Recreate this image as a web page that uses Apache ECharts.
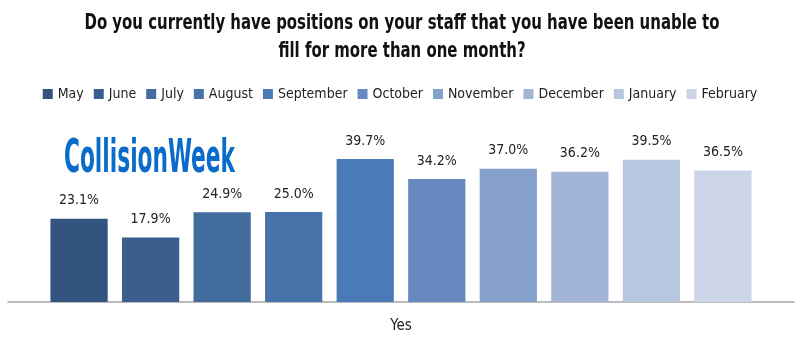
<!DOCTYPE html>
<html>
<head>
<meta charset="utf-8">
<script src="https://cdn.jsdelivr.net/npm/echarts@6/dist/echarts.min.js"></script>
<style>html,body{margin:0;padding:0;background:#fff;}#c{width:800px;height:341px;}</style>
</head>
<body>
<div id="c"></div>
<script>
const categories = ['Yes'];
const months = ['May','June','July','August','September','October','November','December','January','February'];
const values = [23.1, 17.9, 24.9, 25.0, 39.7, 34.2, 37.0, 36.2, 39.5, 36.5];
const colors = ['#32547e','#3a5f8e','#426c9d','#4673aa','#4a7bb8','#6689c0','#85a0cb','#a2b5d6','#b8c7e0','#cbd5e7'];
const titleLines = ['Do you currently have positions on your staff that you have been unable to', 'fill for more than one month?'];
const logoText = 'CollisionWeek';

const FONT = '"Liberation Sans Narrow", "DejaVu Sans Condensed", sans-serif';
const ctx = document.createElement('canvas').getContext('2d');
function measure(text, font) { ctx.font = font; return ctx.measureText(text).width; }

const titleFont = 'bold 22px ' + FONT;
const titleScale = 635 / measure(titleLines[0], titleFont);
const logoFont = 'bold 46px ' + FONT;
const logoScale = 171 / measure(logoText, logoFont);

const chart = echarts.init(document.getElementById('c'));
chart.setOption({
  animation: false,
  color: colors,
  legend: {
    top: 82, left: 'center',
    itemWidth: 10, itemHeight: 10, itemGap: 10,
    icon: 'rect',
    textStyle: { fontFamily: FONT, fontSize: 14, color: '#222' },
    data: months
  },
  graphic: [
    {
      type: 'text', x: 402, y: 23, scaleX: titleScale,
      style: { text: titleLines[0], font: titleFont, fill: '#111', align: 'center', verticalAlign: 'middle' }
    },
    {
      type: 'text', x: 402, y: 51, scaleX: titleScale,
      style: { text: titleLines[1], font: titleFont, fill: '#111', align: 'center', verticalAlign: 'middle' }
    },
    {
      type: 'text', x: 64, y: 160, scaleX: logoScale,
      style: { text: logoText, font: logoFont, fill: '#0a6cca', align: 'left', verticalAlign: 'middle' }
    }
  ],
  grid: { left: 8, right: 6, top: 140, bottom: 39 },
  xAxis: {
    type: 'category', data: categories,
    axisLine: { lineStyle: { color: '#a6a6a6', width: 1.5 } },
    axisTick: { show: false },
    axisLabel: { fontFamily: FONT, fontSize: 15, color: '#222', margin: 17 }
  },
  yAxis: { type: 'value', min: 0, max: 45, show: false, splitLine: { show: false } },
  series: months.map((m, i) => ({
    name: m, type: 'bar',
    data: [values[i]],
    barGap: '25%', barCategoryGap: '10.8%',
    itemStyle: { color: colors[i] },
    label: {
      show: true, position: 'top', distance: 11,
      formatter: p => p.value.toFixed(1) + '%',
      fontFamily: FONT, fontSize: 14, color: '#222'
    }
  }))
});
</script>
</body>
</html>
